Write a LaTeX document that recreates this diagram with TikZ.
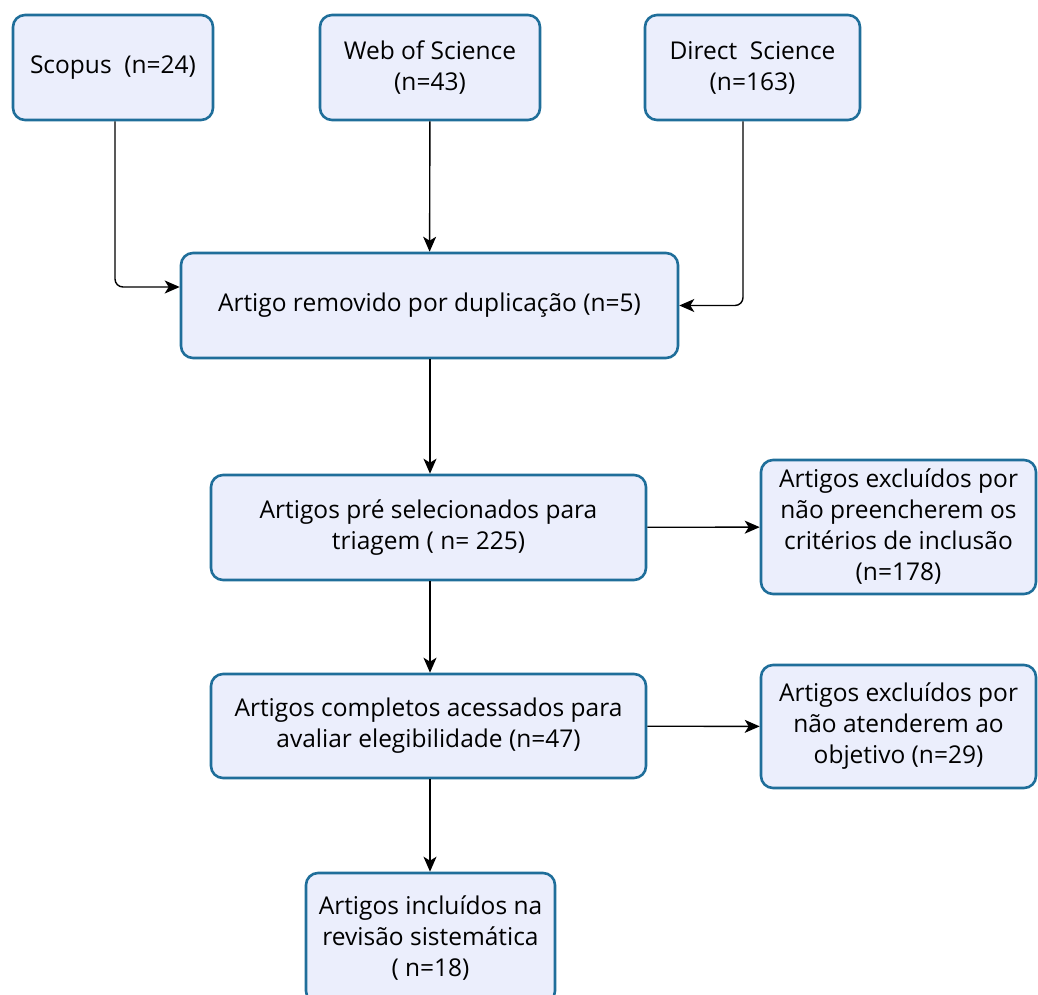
\documentclass[tikz,border=0pt]{standalone}
\usepackage{fontspec}
\setmainfont{Open Sans}
\usetikzlibrary{arrows.meta,positioning}
\definecolor{boxfill}{HTML}{EBEEFC}
\definecolor{boxline}{HTML}{1F6E9A}
\begin{document}
\begin{tikzpicture}[x=1pt, y=-1pt,
		box/.style={draw=boxline, fill=boxfill, line width=2.6pt, rounded corners=12pt,
			align=center, inner sep=0pt, font=\fontsize{24.5}{31}\selectfont},
		flow/.style={line width=1.4pt, -{Stealth[length=15pt, width=13pt, inset=4pt]}}]

		% === page bounds ===
		\clip (0,0) rectangle (1038,995);
		\useasboundingbox (0,0) rectangle (1038,995);

		% === Sources ===
		\node[box, minimum width=200pt, minimum height=105pt] (scopus) at (113,67.5) {Scopus~~(n=24)};
		\node[box, minimum width=220pt, minimum height=105pt] (wos) at (430,67.5) {Web of Science\\(n=43)};
		\node[box, minimum width=215pt, minimum height=105pt] (direct) at (752.5,67.5) {Direct~~Science\\(n=163)};

		% === Main flow ===
		\node[box, minimum width=497pt, minimum height=105pt] (dup) at (429.5,305.5) {Artigo removido por duplicação (n=5)};
		\node[box, minimum width=435pt, minimum height=105pt] (pre) at (428.5,527.5) {Artigos pré selecionados para\\triagem ( n= 225)};
		\node[box, minimum width=435pt, minimum height=104pt] (full) at (428.5,726) {Artigos completos acessados para\\avaliar elegibilidade (n=47)};
		\node[box, minimum width=249pt, minimum height=130pt] (final) at (430.5,938) {Artigos incluídos na\\revisão sistemática\\( n=18)};

		% === Exclusions ===
		\node[box, minimum width=275pt, minimum height=134pt] (excl1) at (898.5,527) {Artigos excluídos por\\não preencherem os\\critérios de inclusão\\(n=178)};
		\node[box, minimum width=275pt, minimum height=123pt] (excl2) at (898.5,726.5) {Artigos excluídos por\\não atenderem ao\\objetivo (n=29)};

		% === Connectors ===
		\coordinate (sbend) at (115,287);
		\coordinate (dbend) at (743,305);
		\draw[flow, rounded corners=8pt] (scopus.south -| sbend) |- (dup.west |- sbend);
		\draw[flow, rounded corners=8pt] (direct.south -| dbend) |- (dup.east);
		\draw[flow] (wos) -- (dup);
		\draw[flow] (dup.south -| wos) -- (pre.north -| wos);
		\draw[flow] (pre.south -| wos) -- (full.north -| wos);
		\draw[flow] (full.south -| wos) -- (final.north -| wos);
		\draw[flow] (pre) -- (excl1);
		\draw[flow] (full) -- (excl2);
	\end{tikzpicture}
\end{document}
